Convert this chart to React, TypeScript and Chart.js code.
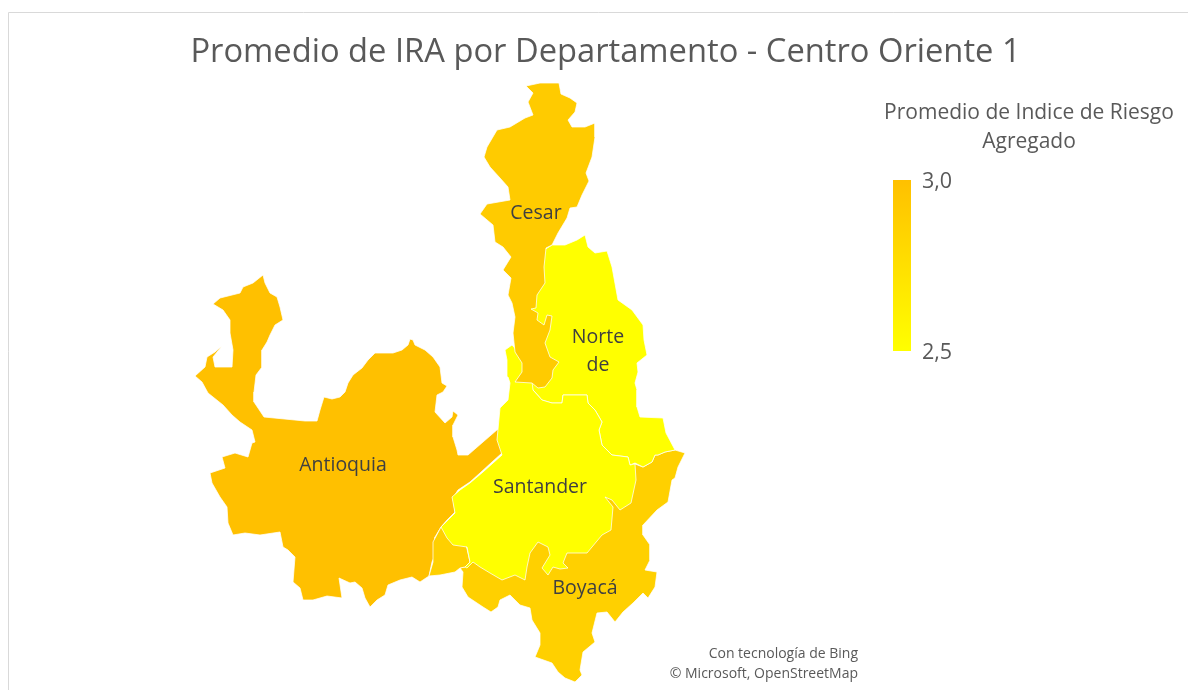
import { useEffect, useRef } from "react";
import { Chart, registerables } from "chart.js";

Chart.register(...registerables);

type Pt = [number, number];

const chartTitle = "Promedio de IRA por Departamento - Centro Oriente 1";
const legendTitle = ["Promedio de Indice de Riesgo", "Agregado"];
const attribution = ["Con tecnología de Bing", "© Microsoft, OpenStreetMap"];
const legendValues = [3.0, 2.5];
const legendLabels = ["3,0", "2,5"];

const departmentColors = { Antioquia: "#FFC000", Cesar: "#FFCB00", Boyaca: "#FFD000", Santander: "#FFFF00", Norte: "#FFFF00" };

// Map outlines, in map units
const antioquia: Pt[] = [[263,275],[265,283],[270,293],[277,297],[280,307],[283,320],[275,325],[270,335],[267,342],[262,350],[262,367],[256,375],[254,392],[254,402],[258,408],[264,417],[305,421],[317,421],[320,410],[324,397],[332,399],[340,397],[345,392],[348,383],[353,375],[362,368],[368,360],[375,353],[393,353],[402,350],[408,345],[410,339],[413,340],[415,345],[425,350],[433,357],[440,367],[442,383],[447,386],[443,392],[437,395],[435,412],[445,423],[452,417],[453,411],[458,415],[453,425],[453,437],[457,450],[458,455],[468,455],[498,429],[502,453],[492,462],[480,473],[470,482],[458,490],[453,498],[455,512],[447,520],[441,527],[435,537],[435,543],[436,553],[432,562],[429,576],[420,582],[412,577],[400,580],[388,585],[385,595],[377,600],[370,607],[365,598],[362,588],[355,582],[350,583],[339,578],[342,598],[327,596],[313,600],[303,600],[300,588],[293,582],[295,557],[288,550],[283,547],[280,532],[260,535],[245,533],[233,535],[228,523],[227,507],[220,497],[212,483],[210,473],[225,468],[222,457],[235,453],[248,457],[252,443],[255,442],[252,430],[240,422],[232,415],[223,405],[208,393],[202,382],[195,376],[205,367],[207,357],[215,352],[222,346],[213,357],[215,367],[232,367],[233,350],[230,333],[230,320],[223,310],[213,304],[220,298],[240,293],[243,287],[253,283]];
const cesar: Pt[] = [[526,86],[540,83],[559,83],[561,94],[570,98],[577,103],[575,112],[568,120],[572,127],[585,127],[595,123],[595,137],[592,157],[586,173],[589,181],[582,195],[577,207],[570,208],[567,218],[558,233],[552,245],[546,248],[544,267],[545,283],[537,295],[536,308],[531,309],[538,313],[537,320],[544,325],[547,315],[552,316],[550,330],[545,343],[550,357],[559,362],[553,370],[552,378],[545,387],[538,388],[532,383],[515,382],[522,372],[522,363],[515,352],[513,333],[515,317],[512,303],[508,295],[511,278],[503,270],[511,257],[503,247],[495,242],[493,225],[480,214],[487,204],[510,200],[508,187],[500,178],[490,167],[484,157],[487,147],[497,130],[510,127],[525,118],[533,115],[528,102],[533,93]];
const norte: Pt[] = [[552,245],[565,245],[577,240],[585,235],[588,247],[595,253],[607,251],[612,267],[618,300],[632,310],[643,325],[644,340],[647,355],[637,363],[638,372],[635,383],[637,390],[637,407],[640,417],[663,418],[666,433],[675,450],[665,452],[658,455],[655,455],[652,462],[643,467],[635,463],[630,465],[628,457],[612,455],[602,445],[599,430],[602,422],[595,410],[588,403],[587,395],[563,395],[562,403],[552,403],[542,400],[533,390],[530,385],[528,330],[528,305],[537,290],[544,250]];
const santander: Pt[] = [[505,350],[512,345],[530,365],[533,390],[542,400],[552,403],[562,403],[563,395],[587,395],[588,403],[595,410],[602,422],[599,430],[602,445],[612,455],[628,457],[630,465],[635,464],[636,480],[631,503],[620,510],[612,500],[605,497],[613,507],[611,530],[602,535],[587,553],[567,553],[563,563],[568,568],[560,569],[553,567],[548,575],[542,568],[550,555],[548,547],[538,542],[530,553],[527,567],[525,580],[515,575],[502,580],[490,573],[480,567],[473,562],[467,568],[465,567],[470,562],[467,547],[453,545],[447,538],[441,527],[455,513],[452,497],[460,490],[470,483],[483,472],[502,455],[497,440],[500,408],[508,400],[510,383],[508,377],[507,360]];
const boyaca: Pt[] = [[685,453],[678,467],[675,478],[672,480],[668,502],[657,510],[643,525],[643,535],[650,545],[650,560],[645,570],[657,572],[655,587],[648,598],[643,593],[633,603],[623,612],[615,622],[607,612],[597,613],[592,633],[595,642],[583,652],[580,670],[582,675],[575,682],[565,678],[558,672],[552,663],[535,657],[540,645],[540,633],[532,620],[530,608],[520,605],[510,595],[500,600],[498,607],[491,612],[483,607],[477,603],[468,597],[462,587],[463,572],[460,568],[465,567],[470,562],[480,555],[535,535],[605,490],[630,462],[635,464],[643,467],[652,462],[655,455],[658,455],[665,452],[675,450]];
const boyacaWest: Pt[] = [[460,568],[455,572],[440,575],[429,576],[433,562],[433,542],[441,527],[465,540],[470,562],[465,567]];
const colorBarX = [893, 911];

const mapLabels: { lines: string; x: number; y: number }[] = [
  { lines: "Cesar", x: 536, y: 213 },
  { lines: "Norte", x: 598, y: 337 },
  { lines: "de", x: 598, y: 365 },
  { lines: "Antioquia", x: 343, y: 465 },
  { lines: "Santander", x: 540, y: 487 },
  { lines: "Boyacá", x: 585, y: 588 },
];

const FONT = '"Open Sans", sans-serif';

function outline(points: Pt[]) {
  const closed = [...points, points[0]];
  return closed.map(([x, y]) => ({ x, y }));
}

function region(label: string, points: Pt[], color: string) {
  return {
    label,
    data: outline(points),
    showLine: true,
    fill: "shape",
    backgroundColor: color,
    borderColor: "rgba(255,255,255,0.75)",
    borderWidth: 1,
    pointRadius: 0,
    tension: 0,
  };
}

const annotations = {
  id: "annotations",
  beforeDraw(chart: any) {
    const { ctx, width, height } = chart;
    ctx.save();
    ctx.strokeStyle = "#D9D9D9";
    ctx.lineWidth = 1;
    ctx.beginPath();
    ctx.moveTo(8.5, height);
    ctx.lineTo(8.5, 12.5);
    ctx.lineTo(width, 12.5);
    ctx.stroke();
    ctx.restore();
  },
  afterDatasetsDraw(chart: any) {
    const { ctx, scales } = chart;
    const px = (v: number) => scales.x.getPixelForValue(v);
    const py = (v: number) => scales.y.getPixelForValue(v);
    ctx.save();
    ctx.textBaseline = "middle";
    ctx.textAlign = "center";
    ctx.fillStyle = "#404040";
    ctx.font = `19.5px ${FONT}`;
    mapLabels.forEach((l) => ctx.fillText(l.lines, px(l.x), py(l.y)));
    ctx.fillStyle = "#595959";
    ctx.font = `21px ${FONT}`;
    legendTitle.forEach((t, i) => ctx.fillText(t, px(1029), py(113 + i * 29)));
    ctx.textAlign = "left";
    ctx.font = `21.5px ${FONT}`;
    legendValues.forEach((v, i) =>
      ctx.fillText(legendLabels[i], px(922), scales.yLegend.getPixelForValue(v) + 2)
    );
    ctx.textAlign = "right";
    ctx.font = `14px ${FONT}`;
    attribution.forEach((t, i) => ctx.fillText(t, px(858), py(654 + i * 20)));
    ctx.restore();
  },
};

export default function App() {
  const ref = useRef<HTMLCanvasElement>(null);
  useEffect(() => {
    const canvas = ref.current!;
    const chart = new Chart(canvas, {
      type: "scatter",
      plugins: [annotations],
      data: {
        datasets: [
          region("Cesar", cesar, departmentColors.Cesar),
          region("Santander", santander, departmentColors.Santander),
          region("Norte de Santander", norte, departmentColors.Norte),
          region("Boyacá oeste", boyacaWest, departmentColors.Boyaca),
          region("Boyacá", boyaca, departmentColors.Boyaca),
          region("Antioquia", antioquia, departmentColors.Antioquia),
          {
            label: "Promedio de Indice de Riesgo Agregado",
            yAxisID: "yLegend",
            showLine: true,
            fill: "shape",
            borderWidth: 0,
            pointRadius: 0,
            data: [
              { x: colorBarX[0], y: legendValues[1] },
              { x: colorBarX[1], y: legendValues[1] },
              { x: colorBarX[1], y: legendValues[0] },
              { x: colorBarX[0], y: legendValues[0] },
              { x: colorBarX[0], y: legendValues[1] },
            ],
            backgroundColor: (c: any) => {
              const s = c.chart.scales?.yLegend;
              const top = s ? s.getPixelForValue(legendValues[0]) : NaN;
              const bottom = s ? s.getPixelForValue(legendValues[1]) : NaN;
              if (!c.chart.chartArea || !Number.isFinite(top) || !Number.isFinite(bottom)) return "#FFD000";
              const g = c.chart.ctx.createLinearGradient(0, top, 0, bottom);
              g.addColorStop(0, "#FFC000");
              g.addColorStop(1, "#FFFF00");
              return g;
            },
          },
        ] as any,
      },
      options: {
        animation: false,
        responsive: false,
        events: [],
        layout: { padding: { left: 23 } },
        plugins: {
          legend: { display: false },
          tooltip: { enabled: false },
          title: {
            display: true,
            text: chartTitle,
            color: "#595959",
            font: { family: FONT, size: 32.7, weight: "normal", lineHeight: 1 },
            padding: { top: 36, bottom: 0.3 },
          },
        },
        scales: {
          x: { type: "linear", display: false, min: 23, max: 1188 },
          y: { type: "linear", display: false, reverse: true, min: 69, max: 690 },
          yLegend: { type: "linear", display: false, min: 1.5088, max: 3.3246 },
        },
      } as any,
    });
    return () => chart.destroy();
  }, []);
  return (
    <canvas
      ref={ref}
      width={1188}
      height={690}
      style={{ position: "fixed", left: 0, top: 0, width: 1188, height: 690, display: "block" }}
    />
  );
}
